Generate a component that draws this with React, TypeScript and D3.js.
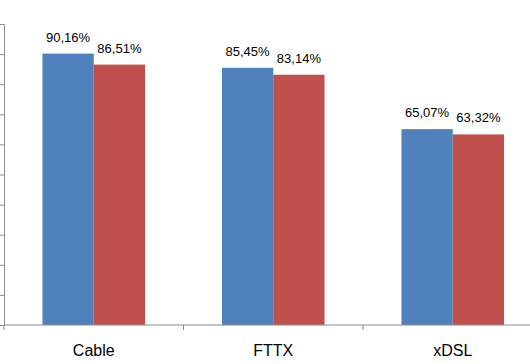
import React, { useEffect, useRef } from 'react'
import * as d3 from 'd3'

const categories = ['Cable', 'FTTX', 'xDSL']
const seriesNames = ['A', 'B']
const seriesA = [90.16, 85.45, 65.07]
const seriesB = [86.51, 83.14, 63.32]
const yTicks = [0, 10, 20, 30, 40, 50, 60, 70, 80, 90, 100]

const colors = ['#4F81BD', '#C0504D']
const fmt = (v: number) => v.toFixed(2).replace('.', ',') + '%'

export default function App() {
  const ref = useRef<SVGSVGElement>(null)

  useEffect(() => {
    const svg = d3.select(ref.current)
    svg.selectAll('*').remove()

    const left = 4
    const top = 24
    const bottom = 325

    const x0 = d3.scaleBand().domain(categories).range([left, 542.5])
    const x1 = d3
      .scaleBand()
      .domain(seriesNames)
      .range([0, x0.bandwidth()])
      .paddingOuter(0.75)
    const y = d3.scaleLinear().domain([0, 100]).range([bottom, top])

    const rows = categories.map((c, i) => ({ cat: c, vals: [seriesA[i], seriesB[i]] }))

    // bars
    const g = svg
      .selectAll('g.cat')
      .data(rows)
      .enter()
      .append('g')
      .attr('class', 'cat')
      .attr('transform', (d) => `translate(${x0(d.cat)},0)`)

    g.selectAll('rect')
      .data((d) => d.vals.map((v, j) => ({ v, s: seriesNames[j], j })))
      .enter()
      .append('rect')
      .attr('x', (d) => x1(d.s)!)
      .attr('y', (d) => y(d.v))
      .attr('width', x1.bandwidth())
      .attr('height', (d) => bottom - y(d.v))
      .attr('fill', (d) => colors[d.j])

    g.selectAll('text')
      .data((d) => d.vals.map((v, j) => ({ v, s: seriesNames[j] })))
      .enter()
      .append('text')
      .attr('x', (d) => x1(d.s)! + x1.bandwidth() / 2)
      .attr('y', (d) => y(d.v) - 12)
      .attr('text-anchor', 'middle')
      .attr('font-family', 'Liberation Sans, Arial, sans-serif')
      .attr('font-size', 13)
      .attr('fill', '#000')
      .text((d) => fmt(d.v))

    // y axis
    const yAxis = svg
      .append('g')
      .attr('transform', `translate(${left},0)`)
      .call(d3.axisLeft(y).tickValues(yTicks).tickSize(4).tickFormat(() => ''))
    yAxis.selectAll('path, line').attr('stroke', '#8c8c8c')

    // x axis
    const xAxis = svg
      .append('g')
      .attr('transform', `translate(0,${bottom})`)
    xAxis
      .append('line')
      .attr('x1', left)
      .attr('x2', 542.5)
      .attr('stroke', '#8c8c8c')
    xAxis
      .selectAll('line.tick')
      .data([...categories.map((c) => x0(c)!), 542.5])
      .enter()
      .append('line')
      .attr('class', 'tick')
      .attr('x1', (d) => d)
      .attr('x2', (d) => d)
      .attr('y1', 0)
      .attr('y2', 5)
      .attr('stroke', '#8c8c8c')
    xAxis
      .selectAll('text')
      .data(categories)
      .enter()
      .append('text')
      .attr('x', (d) => x0(d)! + x0.bandwidth() / 2)
      .attr('y', 31)
      .attr('text-anchor', 'middle')
      .attr('font-family', 'Liberation Sans, Arial, sans-serif')
      .attr('font-size', 16)
      .attr('fill', '#000')
      .text((d) => d)
  }, [])

  return (
    <svg
      ref={ref}
      width={530}
      height={364}
      style={{ position: 'absolute', left: 0, top: 0, background: '#fff' }}
    ></svg>
  )
}
